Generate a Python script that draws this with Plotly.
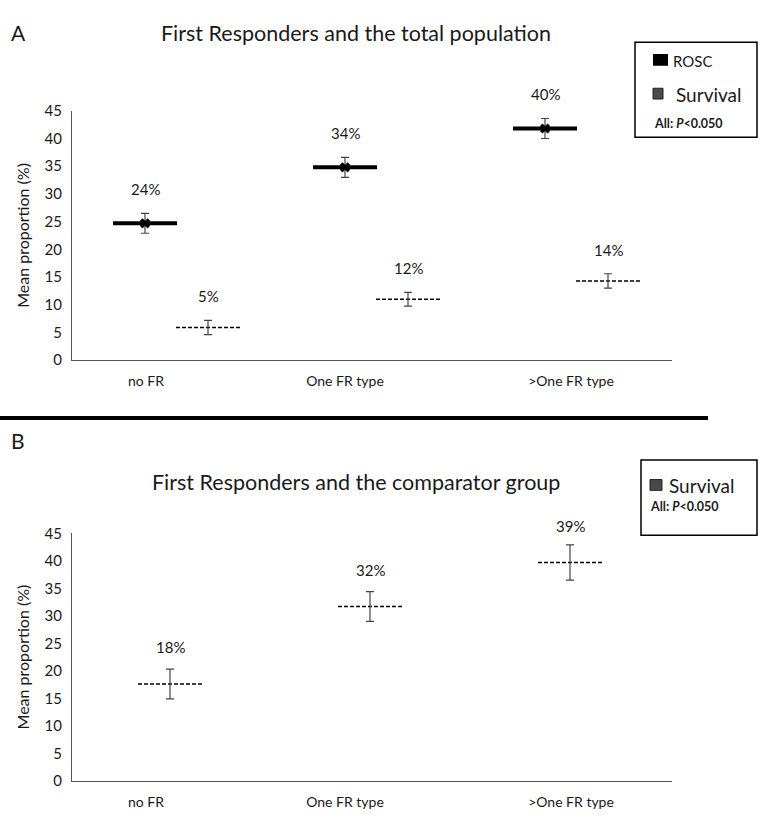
import plotly.graph_objects as go

# ---------------- data ----------------
categories = ["no FR", "One FR type", ">One FR type"]

rosc_a = [24.7, 34.8, 41.8]
rosc_a_err = [1.8, 1.8, 1.8]
rosc_a_lbl = ["24%", "34%", "40%"]

surv_a = [5.9, 11.0, 14.3]
surv_a_err = [1.3, 1.25, 1.3]
surv_a_lbl = ["5%", "12%", "14%"]

surv_b = [17.6, 31.7, 39.7]
surv_b_err = [2.7, 2.7, 3.2]
surv_b_lbl = ["18%", "32%", "39%"]

y_ticks = [0, 5, 10, 15, 20, 25, 30, 35, 40, 45]

# ---------------- layout constants ----------------
W, H = 762, 827
FONT = "Lato"
TXT = "#1a1a1a"
HALF = 0.16          # half-width of the horizontal mean marks (x units)
OFF_ROSC_A = 0.365
OFF_SURV_A = 0.68
OFF_SURV_B = 0.49
TICK_POS = [0.37, 1.365, 2.495]


def px(x):
    return x / W


def py(y):
    return 1 - y / H


def seg(xs, ys):
    sx, sy = [], []
    for x, y in zip(xs, ys):
        sx += [x - HALF, x + HALF, None]
        sy += [y, y, None]
    return sx, sy


def note(x, y, text, size, anchor="center"):
    return dict(x=px(x), y=py(y), xref="paper", yref="paper", text=text, showarrow=False,
                xanchor=anchor, yanchor="middle",
                font=dict(size=size, color=TXT, family=FONT))


fig = go.Figure()

idx = list(range(len(categories)))
ERR_STYLE = dict(color="#444", thickness=1.2, width=4)

# ----- Panel A -----
xr = [i + OFF_ROSC_A for i in idx]
xs = [i + OFF_SURV_A for i in idx]
sx, sy = seg(xr, rosc_a)
fig.add_trace(go.Scatter(x=sx, y=sy, mode="lines", line=dict(color="black", width=4),
                         xaxis="x", yaxis="y", hoverinfo="skip"))
fig.add_trace(go.Scatter(x=xr, y=rosc_a, mode="markers",
                         marker=dict(symbol="x", size=9, color="black"),
                         error_y=dict(type="data", array=rosc_a_err, **ERR_STYLE),
                         xaxis="x", yaxis="y"))
sx, sy = seg(xs, surv_a)
fig.add_trace(go.Scatter(x=sx, y=sy, mode="lines", line=dict(color="black", width=1.5, dash="4px,2px"),
                         xaxis="x", yaxis="y", hoverinfo="skip"))
fig.add_trace(go.Scatter(x=xs, y=surv_a, mode="markers",
                         marker=dict(size=1, color="rgba(0,0,0,0)"),
                         error_y=dict(type="data", array=surv_a_err, **ERR_STYLE),
                         xaxis="x", yaxis="y"))

# ----- Panel B -----
xb = [i + OFF_SURV_B for i in idx]
sx, sy = seg(xb, surv_b)
fig.add_trace(go.Scatter(x=sx, y=sy, mode="lines", line=dict(color="black", width=1.5, dash="4px,2px"),
                         xaxis="x2", yaxis="y2", hoverinfo="skip"))
fig.add_trace(go.Scatter(x=xb, y=surv_b, mode="markers",
                         marker=dict(size=1, color="rgba(0,0,0,0)"),
                         error_y=dict(type="data", array=surv_b_err, **ERR_STYLE),
                         xaxis="x2", yaxis="y2"))

annotations = []
for x, v, t in zip(xr, rosc_a, rosc_a_lbl):
    annotations.append(dict(x=x, y=v, xref="x", yref="y", text=t, showarrow=False, yshift=34,
                            yanchor="middle", font=dict(size=15, color=TXT, family=FONT)))
for x, v, t in zip(xs, surv_a, surv_a_lbl):
    annotations.append(dict(x=x, y=v, xref="x", yref="y", text=t, showarrow=False, yshift=31,
                            yanchor="middle", font=dict(size=15, color=TXT, family=FONT)))
for x, v, t in zip(xb, surv_b, surv_b_lbl):
    annotations.append(dict(x=x, y=v, xref="x2", yref="y2", text=t, showarrow=False, yshift=37,
                            yanchor="middle", font=dict(size=15, color=TXT, family=FONT)))

# panel letters and titles
annotations += [
    note(9, 23, "A", 21, "left"),
    note(356, 24, "First Responders and the total population", 21.5),
    note(9, 440, "B", 21, "left"),
    note(356, 483, "First Responders and the comparator group", 21.5),
]

# legend A
annotations += [
    note(671, 52, "ROSC", 15, "left"),
    note(674, 86, "Survival", 19, "left"),
    note(652, 116, "<b>All: <i>P</i>&lt;0.050</b>", 12.5, "left"),
]
# legend B
annotations += [
    note(667, 486, "Survival", 19, "left"),
    note(648, 508, "<b>All: <i>P</i>&lt;0.050</b>", 12.5, "left"),
]

shapes = [
    # divider
    dict(type="line", xref="paper", yref="paper", x0=0, x1=px(708), y0=py(417), y1=py(417),
         line=dict(color="black", width=4)),
    # legend boxes
    dict(type="rect", xref="paper", yref="paper", x0=px(635), x1=px(757), y0=py(33), y1=py(130),
         line=dict(color="black", width=1.5)),
    dict(type="rect", xref="paper", yref="paper", x0=px(641), x1=px(757), y0=py(460), y1=py(537),
         line=dict(color="black", width=1.5)),
    # legend swatches
    dict(type="rect", xref="paper", yref="paper", x0=px(653), x1=px(668), y0=py(57), y1=py(45),
         fillcolor="black", line=dict(width=0)),
    dict(type="rect", xref="paper", yref="paper", x0=px(653), x1=px(663), y0=py(91), y1=py(80),
         fillcolor="#4a4a4a", line=dict(color="#222", width=1)),
    dict(type="rect", xref="paper", yref="paper", x0=px(650), x1=px(662), y0=py(491), y1=py(480),
         fillcolor="#4a4a4a", line=dict(color="#222", width=1)),
]

axis_common_x = dict(range=[0, 3], tickvals=TICK_POS, ticktext=categories, showgrid=False,
                     zeroline=False, showline=True, linecolor="#555", linewidth=1, ticks="",
                     ticklabelstandoff=8,
                     tickfont=dict(size=14, color=TXT, family=FONT), fixedrange=True)
axis_common_y = dict(range=[0, 45], tickvals=y_ticks, showgrid=False, zeroline=False,
                     showline=True, linecolor="#555", linewidth=1, ticks="",
                     ticklabelstandoff=6,
                     tickfont=dict(size=15, color=TXT, family=FONT),
                     title=dict(text="Mean proportion (%)", font=dict(size=16, color=TXT, family=FONT),
                                standoff=10))

fig.update_layout(
    width=W, height=H,
    margin=dict(l=0, r=0, t=0, b=0),
    paper_bgcolor="white", plot_bgcolor="white",
    showlegend=False,
    xaxis=dict(domain=[px(72), px(672)], anchor="y", **axis_common_x),
    yaxis=dict(domain=[py(358), py(103)], anchor="x", **axis_common_y),
    xaxis2=dict(domain=[px(72), px(672)], anchor="y2", **axis_common_x),
    yaxis2=dict(domain=[py(788), py(535)], anchor="x2", **axis_common_y),
    annotations=annotations,
    shapes=shapes,
)

fig.write_html("out.html", config={"displayModeBar": False},
               post_script="document.body.style.margin='0px';")
